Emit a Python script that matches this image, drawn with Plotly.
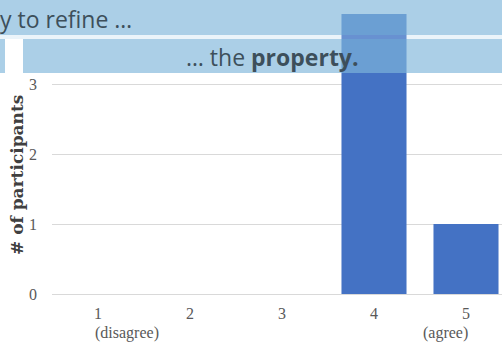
import plotly.graph_objects as go

categories = [1, 2, 3, 4, 5]
cat_labels = ["1", "2", "3", "4", "5"]
counts = [0, 0, 0, 4, 1]
y_ticks = [0, 1, 2, 3, 4]
y_ticktext = ["0", "1", "2", "3", ""]
banner_top_text = "y to refine …"
banner_mid_text = "… the <b>property.</b>"
y_title = "<b># of participants</b>"

W, H = 502, 343
L, R, T, B = 52, 0, 14, 49
PW, PH = W - L - R, H - T - B

def px(x):
    return (x - L) / PW

def py(y):
    return (H - B - y) / PH

fig = go.Figure()
fig.add_trace(go.Bar(x=categories, y=counts, width=0.707,
                     marker=dict(color="#4472c4", line=dict(width=0))))

banner = "rgba(127,182,219,0.66)"
shapes = [
    dict(type="rect", xref="paper", yref="paper", x0=px(0), x1=px(W), y0=py(35), y1=py(0),
         fillcolor=banner, line=dict(width=0), layer="above"),
    dict(type="rect", xref="paper", yref="paper", x0=px(0), x1=px(W), y0=py(39), y1=py(35),
         fillcolor="rgba(190,220,240,0.3)", line=dict(width=0), layer="above"),
    dict(type="rect", xref="paper", yref="paper", x0=px(23), x1=px(W), y0=py(73), y1=py(39),
         fillcolor=banner, line=dict(width=0), layer="above"),
    dict(type="rect", xref="paper", yref="paper", x0=px(0), x1=px(5), y0=py(73), y1=py(39),
         fillcolor=banner, line=dict(width=0), layer="above"),
]

annotations = [
    dict(text=banner_top_text, xref="paper", yref="paper", x=px(-2), y=py(19),
         xanchor="left", yanchor="middle", showarrow=False,
         font=dict(family="Open Sans", size=23, color="#3d4f5b")),
    dict(text=banner_mid_text, xref="paper", yref="paper", x=px(272), y=py(57),
         xanchor="center", yanchor="middle", showarrow=False,
         font=dict(family="Open Sans", size=23, color="#3d4f5b")),
    dict(text="(disagree)", xref="x", yref="paper", x=categories[0], y=py(333),
         xanchor="left", yanchor="middle", showarrow=False, xshift=-5,
         font=dict(family="Liberation Serif", size=16, color="#595959")),
    dict(text="(agree)", xref="x", yref="paper", x=categories[-1], y=py(333),
         xanchor="right", yanchor="middle", showarrow=False, xshift=4,
         font=dict(family="Liberation Serif", size=16, color="#595959")),
    dict(text=y_title, xref="paper", yref="paper", x=px(17), y=py(175),
         xanchor="center", yanchor="middle", showarrow=False, textangle=-90,
         font=dict(family="DejaVu Serif", size=17, color="#404040")),
]

fig.update_layout(
    width=W, height=H,
    margin=dict(l=L, r=R, t=T, b=B, pad=0),
    paper_bgcolor="white", plot_bgcolor="white",
    showlegend=False,
    shapes=shapes, annotations=annotations,
    xaxis=dict(range=[0.5, 0.5 + PW / 92], tickmode="array", tickvals=categories,
               ticktext=cat_labels, showgrid=False, zeroline=False, showline=False,
               ticks="", ticklabelstandoff=8,
               tickfont=dict(family="Liberation Serif", size=16, color="#595959")),
    yaxis=dict(range=[0, 4], tickmode="array", tickvals=y_ticks, ticktext=y_ticktext,
               showgrid=True, gridcolor="#d9d9d9", gridwidth=1, zeroline=True,
               zerolinecolor="#d9d9d9", zerolinewidth=1, showline=False, ticks="",
               ticklabelstandoff=14,
               tickfont=dict(family="Liberation Serif", size=16, color="#595959")),
)

fig.write_html("out.html")
